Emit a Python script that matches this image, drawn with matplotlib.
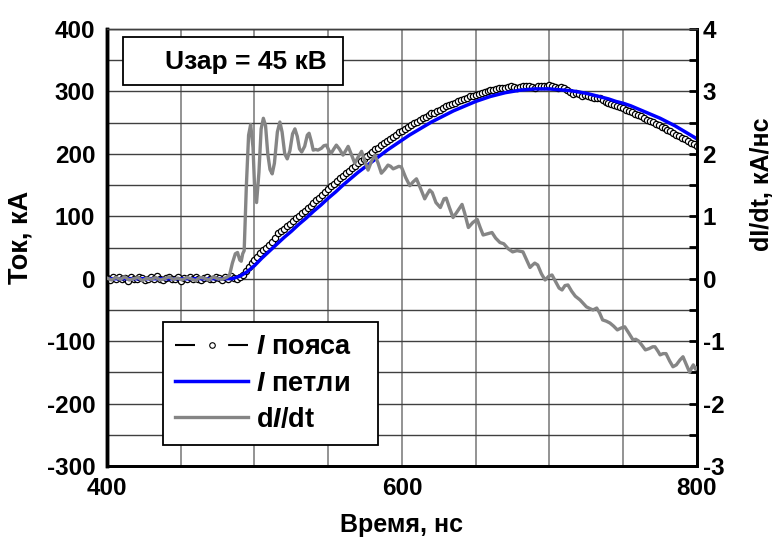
import matplotlib
matplotlib.use("Agg")
import matplotlib.pyplot as plt
import numpy as np
from matplotlib.lines import Line2D
from matplotlib.patches import Rectangle

plt.rcParams["font.family"] = ["Liberation Sans", "DejaVu Sans"]
plt.rcParams["font.weight"] = "bold"
plt.rcParams["axes.unicode_minus"] = False
plt.rcParams["mathtext.fontset"] = "custom"
plt.rcParams["mathtext.rm"] = "Liberation Sans:bold"
plt.rcParams["mathtext.it"] = "Liberation Sans:italic:bold"

# I пояса (belt current), kA, every 2 ns from 400 to 800
belt_current = [
    1, -2, 2, 0, 3, -1, 1, -3, 2, 0,
    -1, 3, 1, -2, 0, 2, -1, 4, 0, -2,
    1, 3, -1, 0, 2, -3, 1, 0, 2, -1,
    3, 0, -2, 1, 2, -1, 0, 3, 1, -2,
    2, 0, 4, 1, -1, 2, 6, 12, 19, 25,
    30, 35, 41, 46, 50, 54, 59, 65, 74, 76,
    79, 84, 88, 93, 98, 101, 105, 109, 113, 117,
    121, 126, 130, 134, 139, 143, 148, 152, 156, 161,
    165, 169, 172, 177, 181, 185, 188, 192, 196, 200,
    203, 207, 210, 214, 217, 221, 224, 227, 231, 235,
    237, 240, 243, 246, 249, 251, 254, 257, 259, 262,
    265, 266, 268, 271, 274, 276, 278, 280, 282, 285,
    286, 288, 290, 292, 293, 294, 296, 298, 299, 300,
    302, 302, 304, 305, 306, 306, 307, 308, 307, 306,
    307, 308, 309, 308, 307, 306, 308, 309, 308, 309,
    310, 309, 307, 305, 307, 305, 302, 299, 296, 297,
    296, 293, 294, 292, 291, 290, 289, 289, 286, 283,
    282, 280, 278, 277, 275, 273, 271, 268, 267, 264,
    262, 260, 257, 255, 253, 251, 248, 246, 243, 241,
    238, 236, 233, 230, 228, 226, 223, 221, 218, 215,
    212,
]
t_belt = np.arange(400, 801, 2)

# I петли (loop current), kA, every 5 ns from 400 to 800
loop_current = [
    0, 0, 0, 0, 0, 0, 0, 0, 0, 0, 0, 0, 0, 0, 0, 0, 0,
    0, 4, 11, 21, 33, 44, 55, 66, 76, 87, 97, 108, 118, 129, 139, 150,
    160, 170, 179, 188, 197, 206, 214, 222, 230, 237, 244, 251, 257, 263,
    269, 274, 279, 284, 288, 292, 295, 298, 300, 302, 303, 304, 304, 304,
    303, 302, 301, 299, 297, 294, 291, 288, 284, 281, 277, 272, 267, 262,
    257, 251, 245, 238, 231, 224,
]
t_loop = np.arange(400, 801, 5)

# dI/dt, kA/ns
t_didt = [
    400, 403, 406, 409, 412, 415, 418, 421, 424, 427, 430, 433, 436, 439,
    442, 445, 448, 451, 454, 457, 460, 463, 466, 469, 472, 475, 478, 481,
    483, 485, 487, 488.5, 490, 491, 492, 493, 494.5, 496, 497.4, 499, 500,
    501.4, 503, 504.5, 506, 507.5, 509, 510.5, 512, 513.5, 515.5, 517.2,
    518.7, 520.5, 522.2, 524, 525.8, 527.4, 529, 530.5, 532, 534, 535.8,
    537, 538.5, 539.8, 541.5, 543, 545.4, 547, 548.8, 550.5, 552, 553.8,
    555.5, 557.5, 560, 561.8, 563.5, 565.5, 568, 570.3, 572.6, 574.8, 577,
    579.3, 581.6, 583.8, 586, 588.3, 590.5, 592.3, 594, 596, 597.8, 599.6,
    602.5, 605.3, 607.5, 609.8, 612.5, 615.4, 617, 618.8, 620.5, 623, 626,
    628.5, 630, 632, 634.6, 637, 640.7, 642.5, 645, 648, 651, 653, 655, 658,
    661, 663.5, 666.4, 669, 672, 675, 678, 682, 684.5, 686.8, 688.5, 690,
    692, 694.5, 697, 699.5, 701.7, 704, 706.5, 708.5, 710.5, 712.5, 715,
    717.5, 720.7, 723, 725, 727.5, 729.5, 732, 734, 736, 738.5, 741, 743.5,
    746, 748.5, 751, 754, 756.6, 758.5, 760.5, 762.5, 765, 767.5, 770,
    771.5, 773.5, 775, 777, 779, 781.5, 783.7, 786, 788.5, 790.5, 792.5,
    795, 796.5, 797.5, 799, 800,
]
didt = [
    0.01, -0.02, 0.02, -0.01, 0.03, -0.02, 0.0, 0.02, -0.03, 0.01, -0.01,
    0.02, -0.02, 0.0, 0.03, -0.01, 0.01, -0.02, 0.02, 0.0, -0.03, 0.02,
    0.01, -0.02, 0.03, 0.0, -0.01, 0.02,
    0.05, 0.25, 0.40, 0.42, 0.30, 0.28, 0.40, 0.45, 1.5, 2.3, 2.47, 2.1,
    1.5, 1.22, 1.7, 2.4, 2.57, 2.45, 2.0, 1.75, 1.68, 1.85, 2.35, 2.51,
    2.35, 2.0, 1.92, 2.05, 2.32, 2.40, 2.28, 2.08, 2.03, 2.12, 2.3,
    2.33, 2.2, 2.06, 2.07, 2.06, 2.09, 2.13, 2.14, 2.05, 2.01, 2.08,
    2.14, 2.08, 1.98, 2.05, 2.12, 2.0, 1.85, 1.95, 2.04, 1.88, 1.74,
    1.88, 1.98, 1.85, 1.69, 1.75, 1.82, 1.8, 1.76, 1.78, 1.8, 1.79,
    1.62, 1.49, 1.55, 1.6, 1.45, 1.28, 1.35, 1.42, 1.38, 1.22, 1.14,
    1.28, 1.29, 1.15, 0.98, 1.06, 1.19, 1.05, 0.82, 0.9, 0.95, 0.82, 0.7, 0.72,
    0.74, 0.65, 0.58, 0.56, 0.48, 0.43, 0.45, 0.43, 0.3, 0.18, 0.22, 0.25,
    0.22, 0.08, -0.02, 0.04, 0.06, -0.04, -0.15, -0.18, -0.11, -0.1, -0.2,
    -0.28, -0.34, -0.4, -0.45, -0.48, -0.5, -0.47, -0.55, -0.66, -0.68, -0.71, -0.76,
    -0.82, -0.79, -0.77, -0.88, -0.98, -0.97, -1.0, -1.06, -1.14, -1.12, -1.09,
    -1.09, -1.16, -1.22, -1.2, -1.2, -1.32, -1.41, -1.38, -1.3, -1.25, -1.36,
    -1.5, -1.42, -1.38, -1.45, -1.43,
]

fig = plt.figure(figsize=(7.76, 5.40), dpi=100)
ax = fig.add_axes([107 / 776, 1 - 466 / 540, 590 / 776, 437 / 540])

ax.plot(t_belt, belt_current, ls="none", marker="o", ms=4.5, mfc="white",
        mec="black", mew=0.9, zorder=3)
ax.plot(t_loop, loop_current, color="#0000ff", lw=2.5, zorder=4)

ax.set_xlim(400, 800)
ax.set_ylim(-300, 400)
ax.set_xticks([400, 600, 800])
ax.set_xticks(np.arange(400, 801, 50), minor=True)
ax.set_yticks(np.arange(-300, 401, 100))
ax.set_yticks(np.arange(-300, 401, 50), minor=True)
ax.grid(which="both", axis="x", color="#808080", lw=1.2)
ax.grid(which="both", axis="y", color="#404040", lw=1.0)
ax.set_axisbelow(True)
ax.tick_params(axis="y", which="both", length=0, pad=8.5, labelsize=17.5)
ax.tick_params(axis="x", which="both", length=0, pad=8, labelsize=17.5)
ax.set_ylabel("Ток, кА", fontsize=19.5, fontweight="bold", va="center")
ax.yaxis.set_label_coords(-0.147, 0.524)
ax.set_xlabel("Время, нс", fontsize=18, fontweight="bold", va="center")
ax.xaxis.set_label_coords(0.5, -0.135)

ax2 = ax.twinx()
ax2.plot(t_didt, didt, color="#858585", lw=2.4, zorder=5)
ax2.set_ylim(-3, 4)
ax2.set_yticks(np.arange(-3, 5, 1))
ax2.set_yticks(np.arange(-3, 4.01, 0.5), minor=True)
ax2.tick_params(axis="y", which="both", direction="in", length=6, width=2,
                pad=4, labelsize=17.5)
ax2.set_ylabel("dI/dt, кА/нс", fontsize=18, fontweight="bold", va="center")
ax2.yaxis.set_label_coords(1.110, 0.645)

for a in (ax, ax2):
    a.spines["left"].set_linewidth(2.5)
    a.spines["bottom"].set_linewidth(2.0)
    a.spines["right"].set_linewidth(2.0)
    a.spines["top"].set_linewidth(1.0)
    a.spines["top"].set_color("#404040")

# voltage box
ax2.add_patch(Rectangle((0.027, 0.872), 0.373, 0.110, transform=ax2.transAxes,
                        facecolor="white", edgecolor="black", lw=1.3, zorder=6))
ax2.text(0.2356, 0.924, "Uзар = 45 кВ", transform=ax2.transAxes, fontsize=19,
         fontweight="bold", ha="center", va="center", zorder=7)

handles = [
    Line2D([], [], color="black", lw=1.5, ls=(0, (9.6, 15.9)), marker="o", ms=4,
           mfc="white", mec="black", mew=0.8),
    Line2D([], [], color="#0000ff", lw=2.5),
    Line2D([], [], color="#858585", lw=2.4),
]
labels = [r"$\mathit{I}$ пояса", r"$\mathit{I}$ петли", r"d$\mathit{I}$/dt"]
leg_box = ((163 - 107) / 590, (466 - 445) / 437, 215 / 590, 123 / 437)
leg = ax2.legend(handles, labels, loc="lower left", bbox_to_anchor=leg_box,
                 mode="expand", borderaxespad=0, fancybox=False, framealpha=1,
                 edgecolor="black", prop={"size": 19.5, "weight": "bold"},
                 handlelength=2.7, handletextpad=0.3, labelspacing=0.38,
                 borderpad=0.45, numpoints=1)
leg.get_frame().set_linewidth(1.3)
leg.set_zorder(8)

fig.savefig("out.png", dpi=100)
